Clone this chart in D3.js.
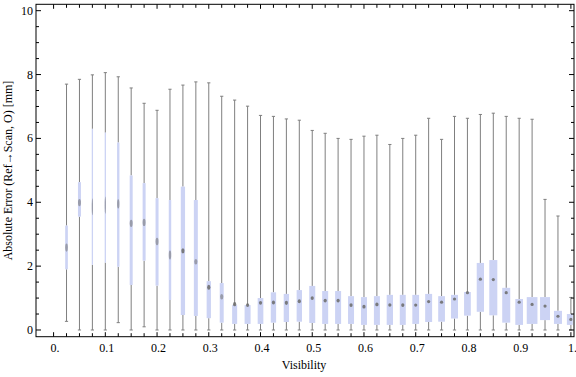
<!DOCTYPE html>
<html>
<head>
<meta charset="utf-8">
<title>Absolute error vs visibility</title>
<script src="https://d3js.org/d3.v7.min.js"></script>
<style>
  body { margin: 0; background: #fff; }
  text { font-family: "Liberation Serif", "Times New Roman", serif; }
</style>
</head>
<body>
<div id="chart"></div>
<script>
// visibility bins (box centres)
var visibility = d3.range(1, 41).map(function(k) { return +(k * 0.025).toFixed(3); });
// whisker ends and quartiles
var whiskerLow = [0.27, 0, 0, 0, 0.23, 0, 0.10, 0, 0, 0,
                  0, 0, 0, 0, 0, 0, 0, 0, 0, 0,
                  0, 0, 0, 0, 0, 0, 0, 0, 0, 0,
                  0, 0, 0, 0, 0, 0, 0, 0, 0, 0];
var q1 = [1.90, 3.55, 2.04, 2.11, 1.98, 1.41, 2.17, 1.39, 0.94, 0.47,
          0.44, 0.37, 0.23, 0.19, 0.19, 0.19, 0.23, 0.25, 0.26, 0.22,
          0.19, 0.19, 0.19, 0.16, 0.16, 0.16, 0.16, 0.19, 0.25, 0.26,
          0.36, 0.45, 0.57, 0.46, 0.23, 0.16, 0.19, 0.31, 0.19, 0.16];
var median = [2.58, 3.99, 3.86, 3.91, 3.95, 3.34, 3.37, 2.77, 2.35, 2.48,
              2.14, 1.34, 1.04, 0.81, 0.78, 0.85, 0.86, 0.85, 0.90, 1.00,
              0.92, 0.92, 0.78, 0.73, 0.80, 0.78, 0.78, 0.78, 0.89, 0.87,
              0.97, 1.17, 1.59, 1.58, 1.17, 0.87, 0.80, 0.75, 0.43, 0.33];
var q3 = [3.27, 4.63, 6.30, 6.18, 5.87, 4.84, 4.60, 4.13, 4.07, 4.49,
          4.07, 1.53, 1.47, 0.78, 0.78, 1.00, 1.18, 1.13, 1.25, 1.38,
          1.22, 1.22, 1.06, 1.03, 1.06, 1.10, 1.10, 1.10, 1.13, 1.06,
          1.10, 1.19, 2.10, 2.19, 1.32, 0.97, 1.03, 1.03, 0.60, 0.50];
var whiskerHigh = [7.70, 7.85, 7.99, 8.06, 7.93, 7.58, 7.10, 6.88, 7.54, 7.67,
                   7.77, 7.74, 7.32, 7.20, 7.01, 6.72, 6.69, 6.61, 6.57, 6.25,
                   6.16, 6.00, 5.97, 6.07, 6.10, 5.81, 6.00, 6.10, 6.63, 5.97,
                   6.69, 6.63, 6.75, 6.79, 6.69, 6.63, 6.60, 4.09, 3.57, 1.02];
// relative box weight (box width)
var weight = [0.25, 0.28, 0.12, 0.12, 0.22, 0.28, 0.28, 0.28, 0.23, 0.40,
              0.37, 0.40, 0.37, 0.47, 0.56, 0.53, 0.50, 0.50, 0.50, 0.56,
              0.56, 0.56, 0.56, 0.56, 0.56, 0.59, 0.56, 0.63, 0.65, 0.63,
              0.65, 0.63, 0.68, 0.75, 0.75, 0.72, 1.00, 0.93, 0.75, 0.75];

var xMajor = [0, 0.1, 0.2, 0.3, 0.4, 0.5, 0.6, 0.7, 0.8, 0.9, 1];
var xLabels = ["0.", "0.1", "0.2", "0.3", "0.4", "0.5", "0.6", "0.7", "0.8", "0.9", "1."];
var yMajor = [0, 2, 4, 6, 8, 10];
var xTitle = "Visibility";
var yTitle = "Absolute Error (Ref\u2192Scan, O) [mm]";

var width = 576, height = 377;
var margin = {top: 4.3, right: 2, bottom: 40.3, left: 36};
var W = width - margin.left - margin.right,
    H = height - margin.top - margin.bottom;

var data = visibility.map(function(v, i) {
  return {v: v, lo: whiskerLow[i], q1: q1[i], med: median[i], q3: q3[i], hi: whiskerHigh[i], w: weight[i]};
});

var x = d3.scaleLinear().domain([-0.034, 1.006]).range([0, W]);
var y = d3.scaleLinear().domain([-0.21, 10.2]).range([H, 0]);
var bw = d3.scaleLinear().domain([0, 1]).range([0, 10.7]);

var svg = d3.select("#chart").append("svg")
    .attr("width", width).attr("height", height);
var g = svg.append("g").attr("transform", "translate(" + margin.left + "," + margin.top + ")");

g.append("clipPath").attr("id", "clip")
  .append("rect").attr("x", 0).attr("y", 0).attr("width", x(1.0035)).attr("height", H);

var plot = g.append("g").attr("clip-path", "url(#clip)");
var boxColor = "#ccd3f4", whiskerColor = "#7f7f7f";

var box = plot.selectAll(".box").data(data).enter().append("g").attr("class", "box");

// whiskers
box.append("line")
  .attr("x1", function(d) { return x(d.v); }).attr("x2", function(d) { return x(d.v); })
  .attr("y1", function(d) { return y(d.hi); }).attr("y2", function(d) { return y(d.q3); })
  .attr("stroke", whiskerColor).attr("stroke-width", 1);
box.append("line")
  .attr("x1", function(d) { return x(d.v); }).attr("x2", function(d) { return x(d.v); })
  .attr("y1", function(d) { return y(d.q1); }).attr("y2", function(d) { return y(d.lo); })
  .attr("stroke", whiskerColor).attr("stroke-width", 1);
// caps
["hi", "lo"].forEach(function(key) {
  box.append("line")
    .attr("x1", function(d) { return x(d.v) - 1.6; }).attr("x2", function(d) { return x(d.v) + 1.6; })
    .attr("y1", function(d) { return y(d[key]); }).attr("y2", function(d) { return y(d[key]); })
    .attr("stroke", whiskerColor).attr("stroke-width", 1);
});
// boxes
box.append("rect")
  .attr("x", function(d) { return x(d.v) - bw(d.w) / 2; })
  .attr("width", function(d) { return bw(d.w); })
  .attr("y", function(d) { return y(d.q3); })
  .attr("height", function(d) { return y(d.q1) - y(d.q3); })
  .attr("fill", boxColor);
// median markers
box.append("ellipse")
  .attr("cx", function(d) { return x(d.v); })
  .attr("cy", function(d) { return y(d.med); })
  .attr("rx", function(d) { return Math.min(1.6, bw(d.w) / 2); })
  .attr("ry", function(d) { return Math.max(1.6, 11 / bw(d.w)); })
  .attr("fill", "#707070")
  .attr("opacity", function(d) { return bw(d.w) < 4 ? 0.55 : 0.9; });

// frame
g.append("rect").attr("x", 0).attr("y", 0).attr("width", W).attr("height", H)
  .attr("fill", "none").attr("stroke", "#000").attr("stroke-width", 1);

// ticks
var xMinor = visibility.filter(function(v) { return xMajor.indexOf(v) < 0; });
var xAll = xMajor.map(function(v) { return {v: v, len: 4.5}; })
  .concat(xMinor.map(function(v) { return {v: v, len: 3.5}; }));
var yAll = d3.range(0, 10.01, 0.5).map(function(v) { return {v: v, len: yMajor.indexOf(v) >= 0 ? 5 : 3}; });

var ticks = g.append("g").attr("stroke", "#000").attr("stroke-width", 1);
ticks.selectAll(".xb").data(xAll).enter().append("line")
  .attr("x1", function(d) { return x(d.v); }).attr("x2", function(d) { return x(d.v); })
  .attr("y1", H).attr("y2", function(d) { return H - d.len; });
ticks.selectAll(".xt").data(xAll).enter().append("line")
  .attr("x1", function(d) { return x(d.v); }).attr("x2", function(d) { return x(d.v); })
  .attr("y1", 0).attr("y2", function(d) { return d.len; });
ticks.selectAll(".yl").data(yAll).enter().append("line")
  .attr("y1", function(d) { return y(d.v); }).attr("y2", function(d) { return y(d.v); })
  .attr("x1", 0).attr("x2", function(d) { return d.len; });
ticks.selectAll(".yr").data(yAll).enter().append("line")
  .attr("y1", function(d) { return y(d.v); }).attr("y2", function(d) { return y(d.v); })
  .attr("x1", W).attr("x2", function(d) { return W - d.len; });

// tick labels
g.selectAll(".xl").data(xMajor).enter().append("text")
  .attr("x", function(d) { return x(d) + 1.5; })
  .attr("y", H + 15.5)
  .attr("text-anchor", "middle")
  .attr("font-size", 12)
  .text(function(d, i) { return xLabels[i]; });
g.selectAll(".ylab").data(yMajor).enter().append("text")
  .attr("x", -3)
  .attr("y", function(d) { return y(d) + 4; })
  .attr("text-anchor", "end")
  .attr("font-size", 12)
  .text(function(d) { return d; });

// axis titles
g.append("text")
  .attr("x", W / 2 - 1)
  .attr("y", H + 32)
  .attr("text-anchor", "middle")
  .attr("font-size", 12)
  .text(xTitle);
g.append("text")
  .attr("transform", "translate(" + (-24) + "," + (H / 2) + ") rotate(-90)")
  .attr("text-anchor", "middle")
  .attr("font-size", 12)
  .text(yTitle);
</script>
</body>
</html>
